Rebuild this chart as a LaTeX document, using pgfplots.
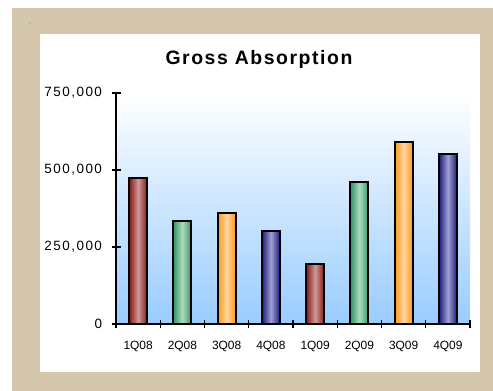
\documentclass[border=0pt]{standalone}
\usepackage{fontspec}
\setmainfont{Liberation Sans}
\newfontfamily\titlefont[LetterSpace=8]{Liberation Sans}
\newfontfamily\ytickfont[LetterSpace=11]{Liberation Sans}
\usepackage{pgfplots}
\pgfplotsset{compat=1.18}

\definecolor{frame}{HTML}{D5C7AB}
\definecolor{skyblue}{HTML}{99CCFF}
\definecolor{rdD}{HTML}{841818}
\definecolor{rdL}{HTML}{D09A9A}
\definecolor{grD}{HTML}{34946A}
\definecolor{grL}{HTML}{ACDCBC}
\definecolor{orD}{HTML}{FF981A}
\definecolor{orL}{HTML}{FFD69E}
\definecolor{nvD}{HTML}{1A1A7E}
\definecolor{nvL}{HTML}{A0A0D2}

% cylinder-like bar fills: dark edges, light centre
% (TikZ maps the path's box onto the 25bp--75bp part of the shading)
\pgfdeclarehorizontalshading{redbar}{100bp}{color(0bp)=(rdD); color(25bp)=(rdD); color(50bp)=(rdL); color(75bp)=(rdD); color(100bp)=(rdD)}
\pgfdeclarehorizontalshading{greenbar}{100bp}{color(0bp)=(grD); color(25bp)=(grD); color(50bp)=(grL); color(75bp)=(grD); color(100bp)=(grD)}
\pgfdeclarehorizontalshading{orangebar}{100bp}{color(0bp)=(orD); color(25bp)=(orD); color(50bp)=(orL); color(75bp)=(orD); color(100bp)=(orD)}
\pgfdeclarehorizontalshading{navybar}{100bp}{color(0bp)=(nvD); color(25bp)=(nvD); color(50bp)=(nvL); color(75bp)=(nvD); color(100bp)=(nvD)}

% each bar is its own plot, so the shading spans exactly one bar
\pgfplotsset{
  qbar/.style={ybar, bar width=18bp, bar shift=0pt, shade, shading=#1,
    draw=black, line width=2bp, forget plot},
}

\begin{document}
\begin{tikzpicture}
\path[use as bounding box] (0,0) rectangle (493bp,391bp);
\fill[white] (0,0) rectangle (493bp,391bp);
\fill[frame] (12bp,0) rectangle (493bp,383bp);
\fill[white] (40bp,19bp) rectangle (480bp,357bp);
\fill[gray] (30bp,368bp) circle (0.7bp);

\node[anchor=base] at (259bp,326bp) {\fontsize{19.5}{22}\selectfont\titlefont\bfseries Gross Absorption};

\begin{axis}[
  at={(116bp,67bp)}, anchor=south west,
  scale only axis, width=354bp, height=231bp,
  xmin=0, xmax=8, ymin=0, ymax=750000,
  axis lines*=left,
  axis line style={line width=1.2bp, black},
  axis background/.style={top color=white, bottom color=skyblue},
  xtick={0.5,1.5,2.5,3.5,4.5,5.5,6.5,7.5},
  xticklabels={1Q08,2Q08,3Q08,4Q08,1Q09,2Q09,3Q09,4Q09},
  major x tick style={draw=none},
  minor xtick={0,1,2,3,4,5,6,7,8},
  ytick={0,250000,500000,750000},
  scaled y ticks=false,
  tick align=center,
  major tick length=9bp, minor tick length=8bp,
  tick style={line width=1.2bp, black},
  /pgf/number format/.cd, fixed, 1000 sep={,}, assume math mode=true,
  /pgfplots/.cd,
  yticklabel style={font=\fontsize{13.5}{15}\selectfont\ytickfont, xshift=-6bp},
  xticklabel style={font=\fontsize{12}{14}\selectfont, yshift=-9bp},
]
\addplot[qbar=redbar]    coordinates {(0.5,475000)}; % 1Q08
\addplot[qbar=greenbar]  coordinates {(1.5,333000)}; % 2Q08
\addplot[qbar=orangebar] coordinates {(2.5,360000)}; % 3Q08
\addplot[qbar=navybar]   coordinates {(3.5,301000)}; % 4Q08
\addplot[qbar=redbar]    coordinates {(4.5,195000)}; % 1Q09
\addplot[qbar=greenbar]  coordinates {(5.5,462000)}; % 2Q09
\addplot[qbar=orangebar] coordinates {(6.5,591000)}; % 3Q09
\addplot[qbar=navybar]   coordinates {(7.5,553000)}; % 4Q09
\end{axis}
\end{tikzpicture}
\end{document}
